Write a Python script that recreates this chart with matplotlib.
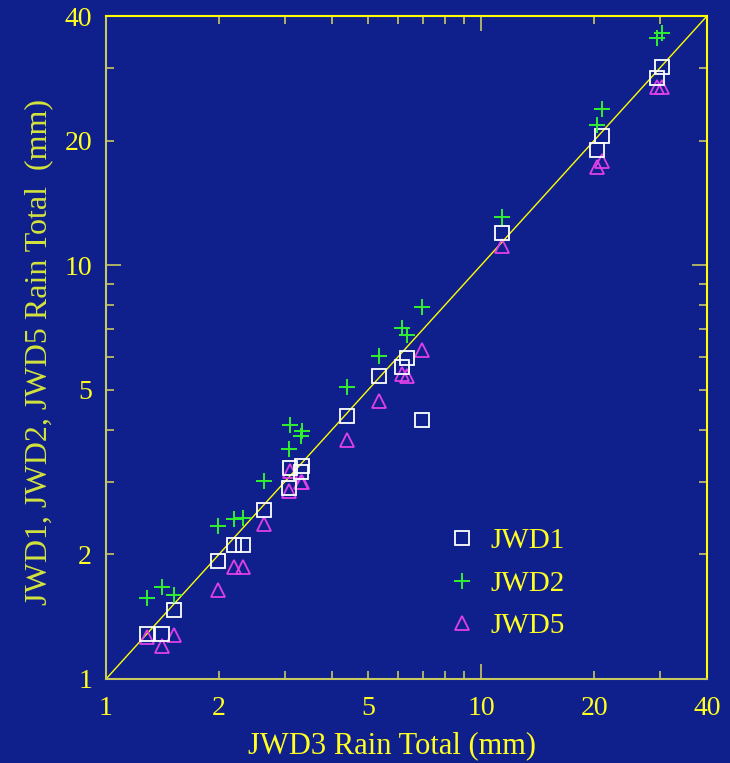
import numpy as np
import matplotlib.pyplot as plt
from matplotlib.ticker import FixedLocator, FuncFormatter

# veriler
jwd3 = [1.286, 1.410, 1.518, 1.989, 2.193, 2.318, 2.637, 3.093, 3.074, 3.329, 3.309,
        4.388, 5.341, 6.152, 6.343, 6.954, 11.36, 20.36, 20.99, 29.41, 30.33]
jwd1 = [1.284, 1.284, 1.467, 1.926, 2.105, 2.105, 2.557, 3.228, 2.889, 3.265, 3.158,
        4.311, 5.383, 5.690, 5.982, 4.216, 11.98, 19.00, 20.53, 28.34, 30.12]
jwd2 = [1.568, 1.667, 1.595, 2.339, 2.432, 2.446, 3.004, 4.101, 3.588, 3.966, 3.857,
        5.064, 6.016, 7.067, 6.797, 7.941, 13.09, 21.83, 23.85, 35.39, 36.38]
jwd5 = [1.263, 1.201, 1.277, 1.639, 1.863, 1.863, 2.365, 3.175, 2.841, 2.987, 2.987,
        3.773, 4.685, 5.443, 5.383, 6.254, 11.14, 17.29, 17.87, 26.95, 26.95]

labeled_ticks = [1, 2, 5, 10, 20, 40]

plt.rcParams['font.family'] = ['Liberation Serif', 'DejaVu Serif']

bg = '#0f1f8c'
yellow = '#ffff20'
olive = '#c8c860'

fig = plt.figure(figsize=(7.3, 7.63), dpi=100, facecolor=bg)
ax = fig.add_axes([106 / 730, 1 - 679 / 763, 601 / 730, 663 / 763], facecolor=bg)
ax.set_xscale('log')
ax.set_yscale('log')

ax.plot([1, 40], [1, 40], color='#ffff00', lw=1.0, zorder=1)
ax.plot(jwd3, jwd1, 's', ms=10, mfc='none', mec='white', mew=1.3, label='JWD1', zorder=3)
ax.plot(jwd3, jwd2, '+', ms=12, color='#30f030', mew=1.4, label='JWD2', zorder=3)
ax.plot(jwd3, jwd5, '^', ms=10, mfc='none', mec='#e040e8', mew=1.3, label='JWD5', zorder=2)

ax.set_xlim(1, 40)
ax.set_ylim(1, 40)

fmt = FuncFormatter(lambda v, p: '%g' % v if round(v) in labeled_ticks else '')
for axis in (ax.xaxis, ax.yaxis):
    axis.set_major_locator(FixedLocator([1, 10]))
    axis.set_minor_locator(FixedLocator([2, 3, 4, 5, 6, 7, 8, 9, 20, 30, 40]))
    axis.set_major_formatter(FuncFormatter(lambda v, p: '%g' % v))
    axis.set_minor_formatter(fmt)

ax.tick_params(which='both', direction='in', top=True, right=True, color=olive,
               labelcolor=yellow, labelsize=20, width=1.2)
ax.tick_params(which='major', length=11, pad=10)
ax.tick_params(which='minor', length=6, pad=10)
ax.tick_params(axis='x', which='both', pad=12)

for s in ['left', 'bottom']:
    ax.spines[s].set_color(olive)
for s in ['top', 'right']:
    ax.spines[s].set_color('#ffff00')
for s in ax.spines.values():
    s.set_linewidth(1.5)

# eksen basliklari
fig.text(392 / 730, 1 - 753 / 763, 'JWD3 Rain Total (mm)', color=yellow, fontsize=22,
         ha='center', va='baseline')
fig.text(39 / 730, 1 - 352 / 763, 'JWD1, JWD2, JWD5 Rain Total  (mm)', rotation=90,
         color='#d4e43c', fontsize=23, ha='center', va='center')

leg = ax.legend(loc='upper left', bbox_to_anchor=(0.569, 0.228), frameon=False,
                fontsize=21, labelcolor=yellow, handlelength=0.95, handletextpad=0.5,
                labelspacing=0.55, borderpad=0, borderaxespad=0, numpoints=1)

fig.savefig('out.png', dpi=100, facecolor=bg)
